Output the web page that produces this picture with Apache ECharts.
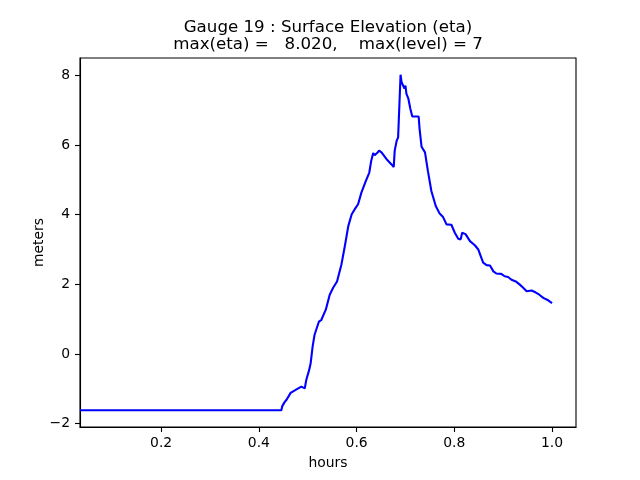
<!DOCTYPE html>
<html>
<head>
<meta charset="utf-8">
<script src="https://cdn.jsdelivr.net/npm/echarts@6/dist/echarts.min.js"></script>
<style>
html,body{margin:0;padding:0;background:#fff;}
#c{width:640px;height:480px;}
</style>
</head>
<body>
<div id="c"></div>
<script>
var titleLine1 = 'Gauge 19 : Surface Elevation (eta)';
var titleLine2 = 'max(eta) =   8.020,    max(level) = 7';
var xName = 'hours';
var yName = 'meters';
var xTicks = [0.2, 0.4, 0.6, 0.8, 1.0];
var yTicks = [-2, 0, 2, 4, 6, 8];
var hours = [0.034, 0.446, 0.448, 0.452, 0.457, 0.465, 0.477, 0.487, 0.494, 0.497, 0.503, 0.506, 0.510, 0.514, 0.523, 0.528, 0.537, 0.545, 0.552, 0.560, 0.569, 0.576, 0.583, 0.590, 0.596, 0.603, 0.610, 0.619, 0.626, 0.630, 0.634, 0.637, 0.642, 0.646, 0.651, 0.661, 0.671, 0.676, 0.678, 0.682, 0.685, 0.688, 0.690, 0.692, 0.695, 0.698, 0.700, 0.702, 0.706, 0.710, 0.714, 0.719, 0.723, 0.727, 0.729, 0.733, 0.740, 0.746, 0.753, 0.762, 0.770, 0.777, 0.784, 0.794, 0.801, 0.808, 0.813, 0.816, 0.823, 0.832, 0.842, 0.849, 0.854, 0.859, 0.866, 0.873, 0.880, 0.886, 0.896, 0.903, 0.910, 0.917, 0.927, 0.934, 0.941, 0.948, 0.958, 0.966, 0.974, 0.982, 0.992, 1.000];
var eta = [-1.62, -1.62, -1.50, -1.40, -1.31, -1.12, -1.02, -0.94, -0.99, -0.75, -0.46, -0.27, 0.21, 0.55, 0.93, 0.98, 1.27, 1.70, 1.90, 2.08, 2.57, 3.10, 3.67, 4.01, 4.15, 4.30, 4.64, 4.97, 5.21, 5.55, 5.77, 5.71, 5.77, 5.84, 5.79, 5.60, 5.45, 5.37, 5.84, 6.12, 6.22, 6.27, 8.02, 7.81, 7.86, 7.62, 7.71, 7.47, 7.33, 7.04, 6.82, 6.82, 6.87, 6.82, 6.45, 5.95, 5.79, 5.25, 4.68, 4.25, 4.03, 3.93, 3.72, 3.71, 3.48, 3.31, 3.29, 3.48, 3.44, 3.24, 3.12, 3.00, 2.81, 2.62, 2.55, 2.54, 2.37, 2.31, 2.30, 2.23, 2.21, 2.13, 2.07, 1.99, 1.90, 1.80, 1.82, 1.77, 1.70, 1.61, 1.54, 1.46];

var data = hours.map(function (h, i) { return [h, eta[i]]; });
var font = 'DejaVu Sans';
var chart = echarts.init(document.getElementById('c'), null, {renderer: 'canvas'});
chart.setOption({
  animation: false,
  backgroundColor: '#ffffff',
  title: [
    {text: titleLine1, left: 328, top: 19, textAlign: 'center', padding: 0,
     textStyle: {fontFamily: font, fontSize: 16.67, fontWeight: 'normal', color: '#000'}},
    {text: titleLine2, left: 328, top: 36.5, textAlign: 'center', padding: 0,
     textStyle: {fontFamily: font, fontSize: 16.67, fontWeight: 'normal', color: '#000'}}
  ],
  grid: {left: 80, right: 64, top: 58, bottom: 53, show: true, borderColor: '#000', borderWidth: 1.1, backgroundColor: 'transparent', containLabel: false},
  xAxis: {
    type: 'value', min: 0.034, max: 1.049,
    name: xName, nameLocation: 'middle', nameGap: 29, nameMoveOverlap: false,
    nameTextStyle: {fontFamily: font, fontSize: 13.9, color: '#000'},
    axisLine: {show: true, onZero: false, lineStyle: {color: '#000', width: 1.1}},
    axisTick: {show: true, inside: false, length: 5, lineStyle: {color: '#000', width: 1.1}, customValues: xTicks},
    axisLabel: {show: true, margin: 9, fontFamily: font, fontSize: 13.9, color: '#000', customValues: xTicks,
      formatter: function (v) { return v.toFixed(1); }},
    splitLine: {show: false}
  },
  yAxis: {
    type: 'value', min: -2.10, max: 8.50,
    name: yName, nameLocation: 'middle', nameGap: 34, nameRotate: 90, nameMoveOverlap: false,
    nameTextStyle: {fontFamily: font, fontSize: 13.9, color: '#000'},
    axisLine: {show: true, onZero: false, lineStyle: {color: '#000', width: 1.1}},
    axisTick: {show: true, inside: false, length: 5, lineStyle: {color: '#000', width: 1.1}, customValues: yTicks},
    axisLabel: {show: true, margin: 10, fontFamily: font, fontSize: 13.9, color: '#000', customValues: yTicks,
      formatter: function (v) { return String(v).replace('-', '\u2212'); }},
    splitLine: {show: false}
  },
  series: [{
    type: 'line', data: data, showSymbol: false, symbol: 'none',
    lineStyle: {color: '#0000ff', width: 2.1}, clip: true
  }]
});
</script>
</body>
</html>
